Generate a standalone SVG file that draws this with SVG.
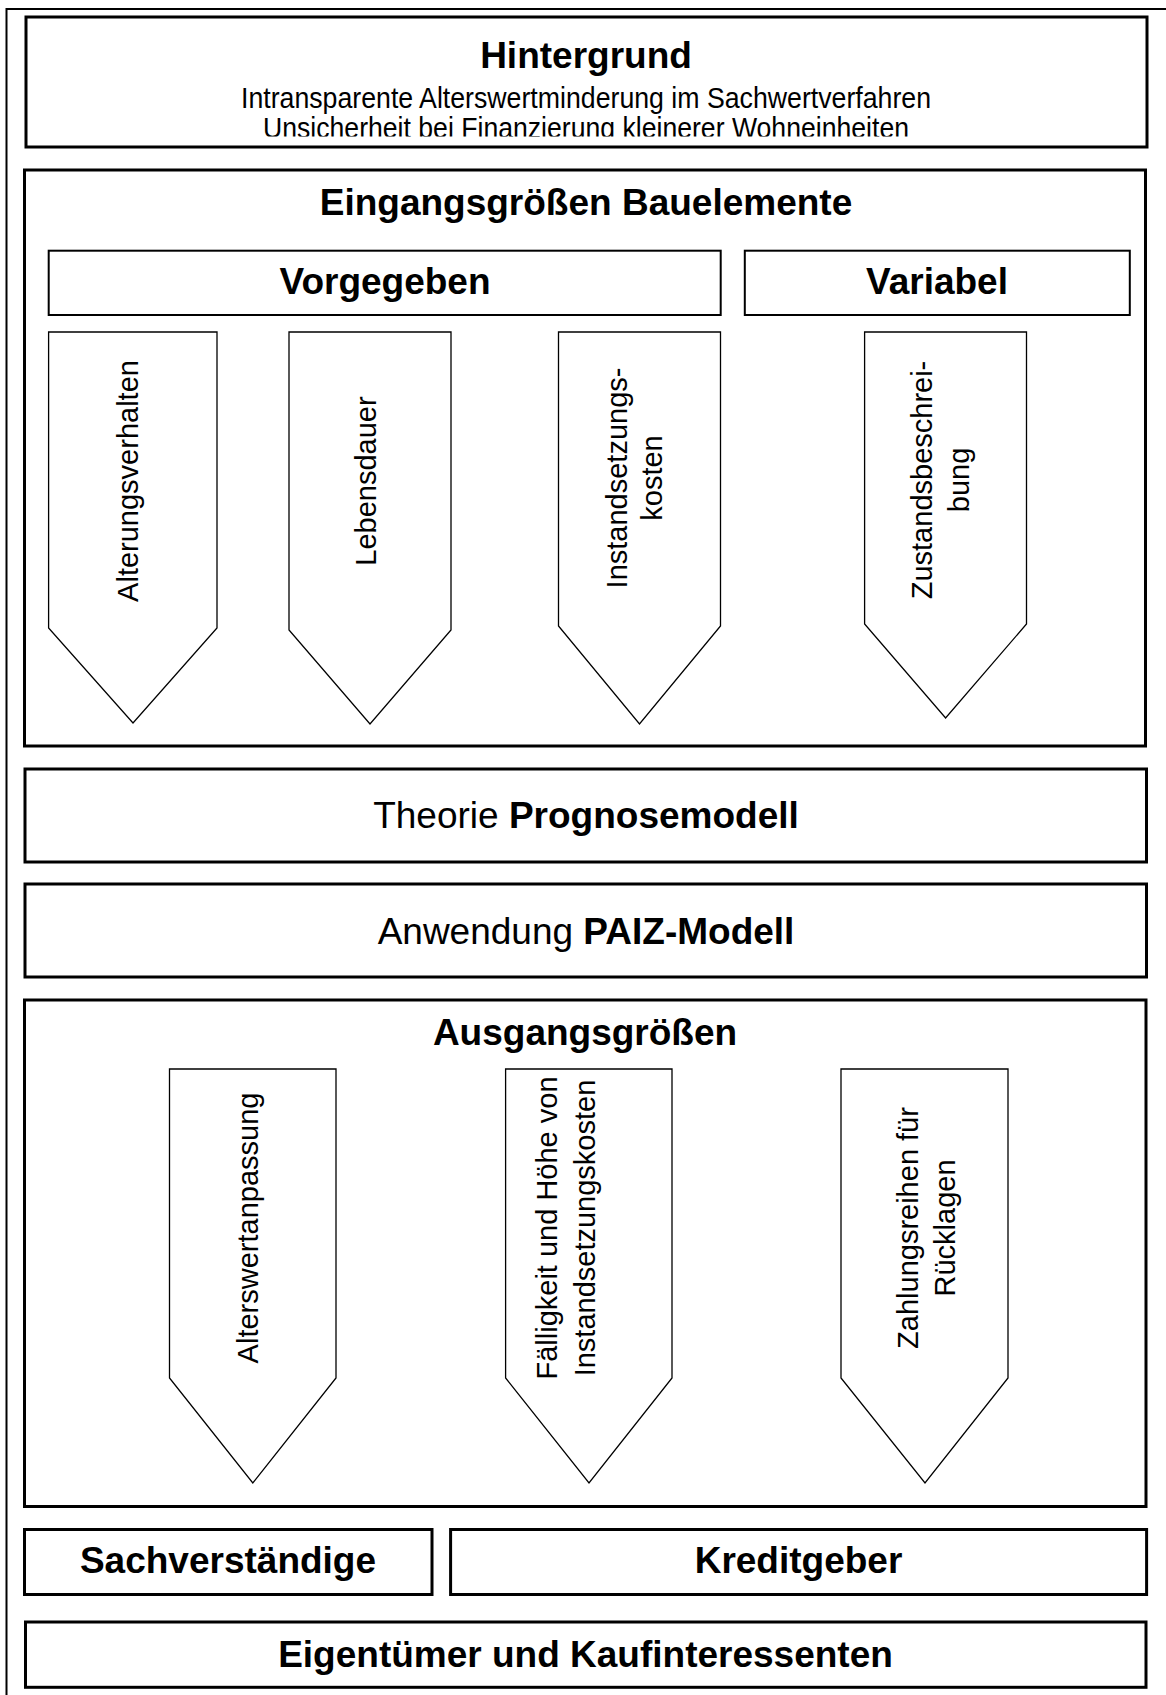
<svg xmlns="http://www.w3.org/2000/svg" width="1166" height="1695" viewBox="0 0 1166 1695">
<style>
text{font-family:"Liberation Sans",Arial,Helvetica,sans-serif;fill:#000}
.big{font-size:37px}
.b{font-weight:bold}
.sub{font-size:30px}
.vt{font-size:29px}
.box{fill:#fff;stroke:#000;stroke-width:3}
.hdr{fill:#fff;stroke:#000;stroke-width:2}
.pent{fill:#fff;stroke:#000;stroke-width:1.3;stroke-linejoin:miter}
.frame{fill:none;stroke:#000;stroke-width:2}
</style>
<defs>
<clipPath id="clipHint"><rect x="27" y="18" width="1118" height="118.5"/></clipPath>
</defs>
<rect width="1166" height="1695" fill="#fff"/>
<g id="frame">
<path class="frame" d="M6.5,1695 V9 H1166"/>
</g>

<g id="hintergrund">
<rect class="box" x="26" y="17" width="1121" height="130"/>
<text class="big b" x="586" y="68" text-anchor="middle">Hintergrund</text>
<g clip-path="url(#clipHint)">
<text class="sub" x="586" y="108" text-anchor="middle" textLength="690" lengthAdjust="spacingAndGlyphs">Intransparente Alterswertminderung im Sachwertverfahren</text>
<text class="sub" x="586" y="138" text-anchor="middle" textLength="646" lengthAdjust="spacingAndGlyphs">Unsicherheit bei Finanzierung kleinerer Wohneinheiten</text>
</g>
</g>

<g id="eingangsgroessen">
<rect class="box" x="24.5" y="170" width="1121" height="576"/>
<text class="big b" x="586" y="215" text-anchor="middle">Eingangsgrößen Bauelemente</text>
</g>

<g id="vorgegeben">
<rect class="hdr" x="48.7" y="250.7" width="672" height="64.3"/>
<text class="big b" x="385" y="294" text-anchor="middle">Vorgegeben</text>
</g>

<g id="variabel">
<rect class="hdr" x="744.8" y="250.7" width="385" height="64.3"/>
<text class="big b" x="937" y="294" text-anchor="middle">Variabel</text>
</g>

<g id="in-alterungsverhalten">
<path class="pent" d="M48.6,332 H217 V628 L133,723 L48.6,628 Z"/>
<text class="vt" transform="translate(138,481) rotate(-90)" text-anchor="middle">Alterungsverhalten</text>
</g>

<g id="in-lebensdauer">
<path class="pent" d="M289,332 H451 V630 L370,724 L289,630 Z"/>
<text class="vt" transform="translate(376,481) rotate(-90)" text-anchor="middle">Lebensdauer</text>
</g>

<g id="in-instandsetzungskosten">
<path class="pent" d="M558.5,332 H720.5 V626 L639.5,724 L558.5,626 Z"/>
<text class="vt" transform="translate(627,478) rotate(-90)" text-anchor="middle">Instandsetzungs-</text>
<text class="vt" transform="translate(662,478) rotate(-90)" text-anchor="middle">kosten</text>
</g>

<g id="in-zustandsbeschreibung">
<path class="pent" d="M864.6,332 H1026.5 V624 L945.6,718 L864.6,624 Z"/>
<text class="vt" transform="translate(932,480) rotate(-90)" text-anchor="middle">Zustandsbeschrei-</text>
<text class="vt" transform="translate(969,480) rotate(-90)" text-anchor="middle">bung</text>
</g>

<g id="theorie">
<rect class="box" x="25" y="769" width="1121.5" height="93"/>
<text class="big" x="586" y="828" text-anchor="middle">Theorie <tspan class="b">Prognosemodell</tspan></text>
</g>

<g id="anwendung">
<rect class="box" x="25" y="884" width="1121.5" height="93"/>
<text class="big" x="586" y="943.5" text-anchor="middle">Anwendung <tspan class="b">PAIZ-Modell</tspan></text>
</g>

<g id="ausgangsgroessen">
<rect class="box" x="24.5" y="1000" width="1121.5" height="506.5"/>
<text class="big b" x="585" y="1045" text-anchor="middle">Ausgangsgrößen</text>
</g>

<g id="out-alterswertanpassung">
<path class="pent" d="M169.5,1069 H336 V1378 L252.8,1483 L169.5,1378 Z"/>
<text class="vt" transform="translate(258,1228) rotate(-90)" text-anchor="middle">Alterswertanpassung</text>
</g>

<g id="out-faelligkeit">
<path class="pent" d="M505.6,1069 H672 V1378 L589,1483 L505.6,1378 Z"/>
<text class="vt" transform="translate(557,1228) rotate(-90)" text-anchor="middle">Fälligkeit und Höhe von</text>
<text class="vt" transform="translate(595,1228) rotate(-90)" text-anchor="middle">Instandsetzungskosten</text>
</g>

<g id="out-zahlungsreihen">
<path class="pent" d="M841,1069 H1008 V1378 L925,1483 L841,1378 Z"/>
<text class="vt" transform="translate(918,1228) rotate(-90)" text-anchor="middle">Zahlungsreihen für</text>
<text class="vt" transform="translate(955,1228) rotate(-90)" text-anchor="middle">Rücklagen</text>
</g>

<g id="sachverstaendige">
<rect class="box" x="24.5" y="1529.5" width="407.5" height="65"/>
<text class="big b" x="228" y="1573" text-anchor="middle">Sachverständige</text>
</g>

<g id="kreditgeber">
<rect class="box" x="450.6" y="1529.5" width="696" height="65"/>
<text class="big b" x="798.5" y="1573" text-anchor="middle">Kreditgeber</text>
</g>

<g id="eigentuemer">
<rect class="box" x="25.5" y="1622" width="1120.5" height="65.3"/>
<text class="big b" x="585.5" y="1667" text-anchor="middle">Eigentümer und Kaufinteressenten</text>
</g>

<g id="connectors"/>
</svg>
